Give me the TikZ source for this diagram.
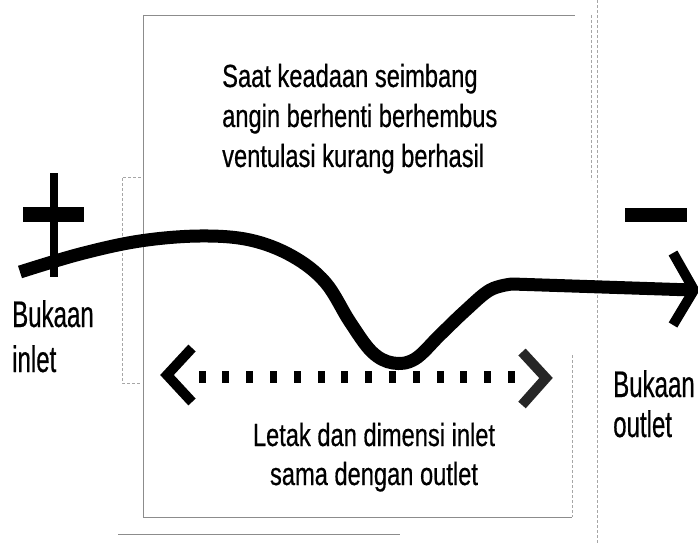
\documentclass[tikz,border=0pt]{standalone}
\usepackage{fontspec}
\setmainfont{Liberation Sans}
\newfontfamily\txtfont[FakeStretch=0.74,FakeBold=0.5]{Liberation Sans}
\newfontfamily\labfont[FakeStretch=0.65,FakeBold=0.5]{Liberation Sans}
\begin{document}
\begin{tikzpicture}[x=1pt,y=-1pt,
  frame/.style={draw=black!45,line width=0.6pt},
  faint/.style={draw=black!35,line width=0.5pt,densely dashed},
  txt/.style={inner sep=0pt,anchor=base west,font=\txtfont\fontsize{32}{40}\selectfont},
  txtc/.style={inner sep=0pt,anchor=base,font=\txtfont\fontsize{32}{40}\selectfont},
  lab/.style={inner sep=0pt,anchor=base west,font=\labfont\fontsize{37}{44}\selectfont},
  flow/.style={line width=13pt,line cap=butt,line join=round},
  chev/.style={line width=10pt,line cap=butt,line join=miter},
  sign/.style={fill=black}]
\useasboundingbox (0,0) rectangle (698,545);

% faint scan frames
\draw[frame] (143,15) -- (575,15);
\draw[frame] (143,15) -- (143,517) -- (572,517);
\draw[faint] (572,355) -- (572,517);
\draw[faint] (591,15) -- (591,180);
\draw[faint] (597,0) -- (597,545);
\draw[frame] (118,534) -- (400,534);
\draw[faint] (141,177) -- (122,177) -- (122,383) -- (141,383);

% plus sign
\fill[sign] (50,173) rectangle (58,277);
\fill[sign] (23,207) rectangle (84,222);
% minus sign
\fill[sign] (625,208) rectangle (687,222);

% airflow curve
\coordinate (fs) at (20,272);
\coordinate (fe) at (692,290);
\draw[flow] plot[smooth,tension=0.6] coordinates {(fs) (80,254) (140,241) (200,236) (250,240) (292,256) (325,282) (350,322) (372,352) (393,363) (415,359) (440,335) (465,311) (490,290) (512,284)} -- (fe);
% arrowhead at outlet
\coordinate (ha) at (673,253);
\coordinate (hb) at (673,325);
\draw[chev] (ha) -- (694,290) -- (hb);

% dotted double arrow
\coordinate (la) at (192,348);
\coordinate (lt) at (167,375);
\coordinate (lb) at (192,402);
\draw[chev] (la) -- (lt) -- (lb);
\coordinate (ra) at (522,352);
\coordinate (rt) at (546,378);
\coordinate (rb) at (522,405);
\draw[chev,black!85] (ra) -- (rt) -- (rb);
\foreach \i in {0,...,13} \fill ({202+23.8*\i-3.5},371) rectangle +(7,12);

% texts
\node[txt] (t1) at (222,87) {Saat keadaan seimbang};
\node[txt] (t2) at (222,127) {angin berhenti berhembus};
\node[txt] (t3) at (222,167) {ventulasi kurang berhasil};
\node[txtc] (b1) at (374,446) {Letak dan dimensi inlet};
\node[txtc] (b2) at (374,485) {sama dengan outlet};
\node[lab] (i1) at (12,327) {Bukaan};
\node[lab] (i2) at (12,372) {inlet};
\node[lab] (o1) at (613,397) {Bukaan};
\node[lab] (o2) at (613,437) {outlet};
\end{tikzpicture}
\end{document}
